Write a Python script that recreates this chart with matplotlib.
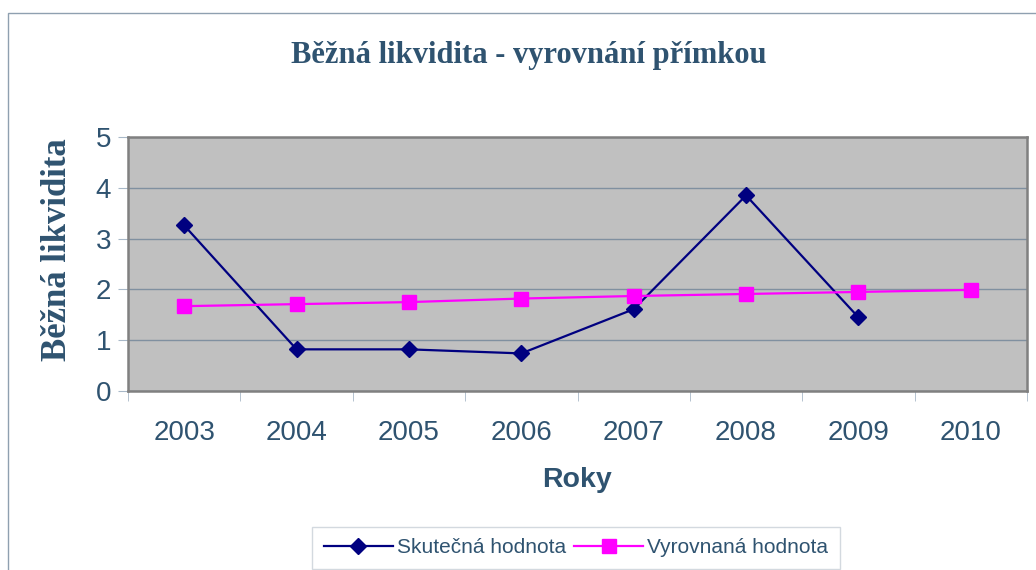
import matplotlib.pyplot as plt
from matplotlib.patches import Rectangle

roky = ["2003", "2004", "2005", "2006", "2007", "2008", "2009", "2010"]
skutecna = [3.26, 0.82, 0.82, 0.74, 1.61, 3.85, 1.45]
vyrovnana = [1.67, 1.71, 1.75, 1.82, 1.87, 1.91, 1.95, 1.99]

text_col = "#2F5370"
plt.rcParams['font.family'] = ['Liberation Sans', 'DejaVu Sans']

fig = plt.figure(figsize=(10.36, 5.70), dpi=100)
fig.patches.append(Rectangle((8 / 1036, -0.1), 1.2, 1 - 13 / 570 + 0.1, transform=fig.transFigure,
                             fill=False, edgecolor="#8FA0B0", linewidth=1.0))

ax = fig.add_axes([128 / 1036, 1 - 391 / 570, 899 / 1036, 254 / 570])
ax.set_facecolor("#C0C0C0")

x_sk = list(range(len(skutecna)))
x_vy = list(range(len(vyrovnana)))
ax.plot(x_sk, skutecna, color="#000080", linewidth=1.6, marker="D", markersize=8,
        label="Skutečná hodnota", zorder=3)
ax.plot(x_vy, vyrovnana, color="#FF00FF", linewidth=1.6, marker="s", markersize=10,
        label="Vyrovnaná hodnota", zorder=3)

ax.set_xlim(-0.5, len(roky) - 0.5)
ax.set_ylim(0, 5)
ax.set_yticks(range(6))
ax.set_xticks(range(len(roky)))
ax.set_xticklabels(roky)
ax.set_xticks([i - 0.5 for i in range(len(roky) + 1)], minor=True)
ax.tick_params(axis="x", which="major", length=0, pad=21, labelsize=20, labelcolor=text_col)
ax.tick_params(axis="x", which="minor", length=7, color="#A8B8C8", direction="out")
ax.tick_params(axis="y", length=7, color="#A8B8C8", pad=5, labelsize=20, labelcolor=text_col)

ax.grid(axis="y", color="#8090A0", linewidth=1.0)
ax.set_axisbelow(True)
for s in ax.spines.values():
    s.set_color("#808080")
    s.set_linewidth(1.8)

ax.set_xlabel("Roky", fontsize=20.5, fontweight="bold", color=text_col, labelpad=15)
fig.text(58 / 1036, 1 - 250 / 570, "Běžná likvidita", rotation=90, ha="center", va="center",
         fontsize=25, fontweight="bold", color=text_col, family=["Liberation Serif", "DejaVu Serif"])

fig.text(529 / 1036, 1 - 56 / 570, "Běžná likvidita - vyrovnání přímkou", ha="center", va="center",
         fontsize=22, fontweight="bold", color=text_col, family=["Liberation Serif", "DejaVu Serif"])

leg = fig.legend(loc="upper center", bbox_to_anchor=(576 / 1036, 1 - 527 / 570), ncol=2,
                 fontsize=15, frameon=True, fancybox=False, handlelength=3.3, handletextpad=0.2,
                 columnspacing=0.4, borderpad=0.55, borderaxespad=0)
leg.get_frame().set_edgecolor("#C8D0D8")
leg.get_frame().set_linewidth(1.0)
for t in leg.get_texts():
    t.set_color(text_col)

fig.savefig("out.png", dpi=100)
